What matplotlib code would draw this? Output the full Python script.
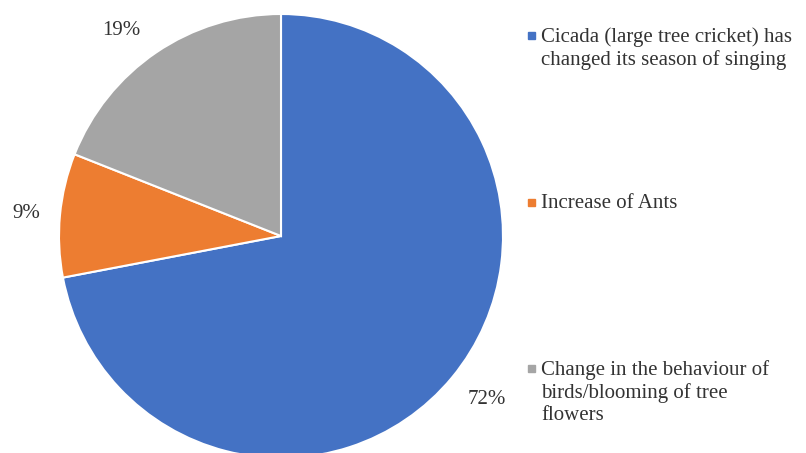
import matplotlib.pyplot as plt
from matplotlib.patches import Rectangle

plt.rcParams['font.family'] = ['Liberation Serif', 'DejaVu Serif']

# survey answers, clockwise from the top
labels = ['Cicada (large tree cricket) has\nchanged its season of singing',
          'Increase of Ants',
          'Change in the behaviour of\nbirds/blooming of tree\nflowers']
shares = [72, 9, 19]
colors = ['#4472C4', '#ED7D31', '#A5A5A5']
text_color = '#333333'

W, H = 806, 453
fig = plt.figure(figsize=(W / 100, H / 100), dpi=100)
ax = fig.add_axes([0, 0, 1, 1])

wedges, texts, autotexts = ax.pie(
    shares, colors=colors, startangle=90, counterclock=False,
    autopct='%d%%', pctdistance=1.17,
    wedgeprops=dict(edgecolor='white', linewidth=1.5),
    textprops=dict(fontsize=15, color=text_color))

# pie centre and radius in pixels
r = 222
cx, cy = 281, 236
ax.set_xlim(-cx / r, (W - cx) / r)
ax.set_ylim(-(H - cy) / r, cy / r)
ax.set_aspect('auto')
ax.axis('off')

# nudge the percentage labels to where the data labels sit
pct_pos = [(487, 400), (26, 214), (121, 31)]
for t, (px, py) in zip(autotexts, pct_pos):
    t.set_position(((px - cx) / r, (cy - py) / r))
    t.set_va('center')

# legend drawn by hand so each entry sits at its own height
# (y = baseline of the first line of each entry, in pixels)
legend_base = [43, 210, 376]
for lab, col, y in zip(labels, colors, legend_base):
    fig.patches.append(Rectangle((528 / W, 1 - (y - 4) / H), 7 / W, 7 / H,
                                 transform=fig.transFigure, color=col))
    fig.text(541 / W, 1 - (y - 16) / H, lab, fontsize=15, color=text_color,
             va='top', ha='left', linespacing=1.2)

fig.savefig('out.png', dpi=100)
